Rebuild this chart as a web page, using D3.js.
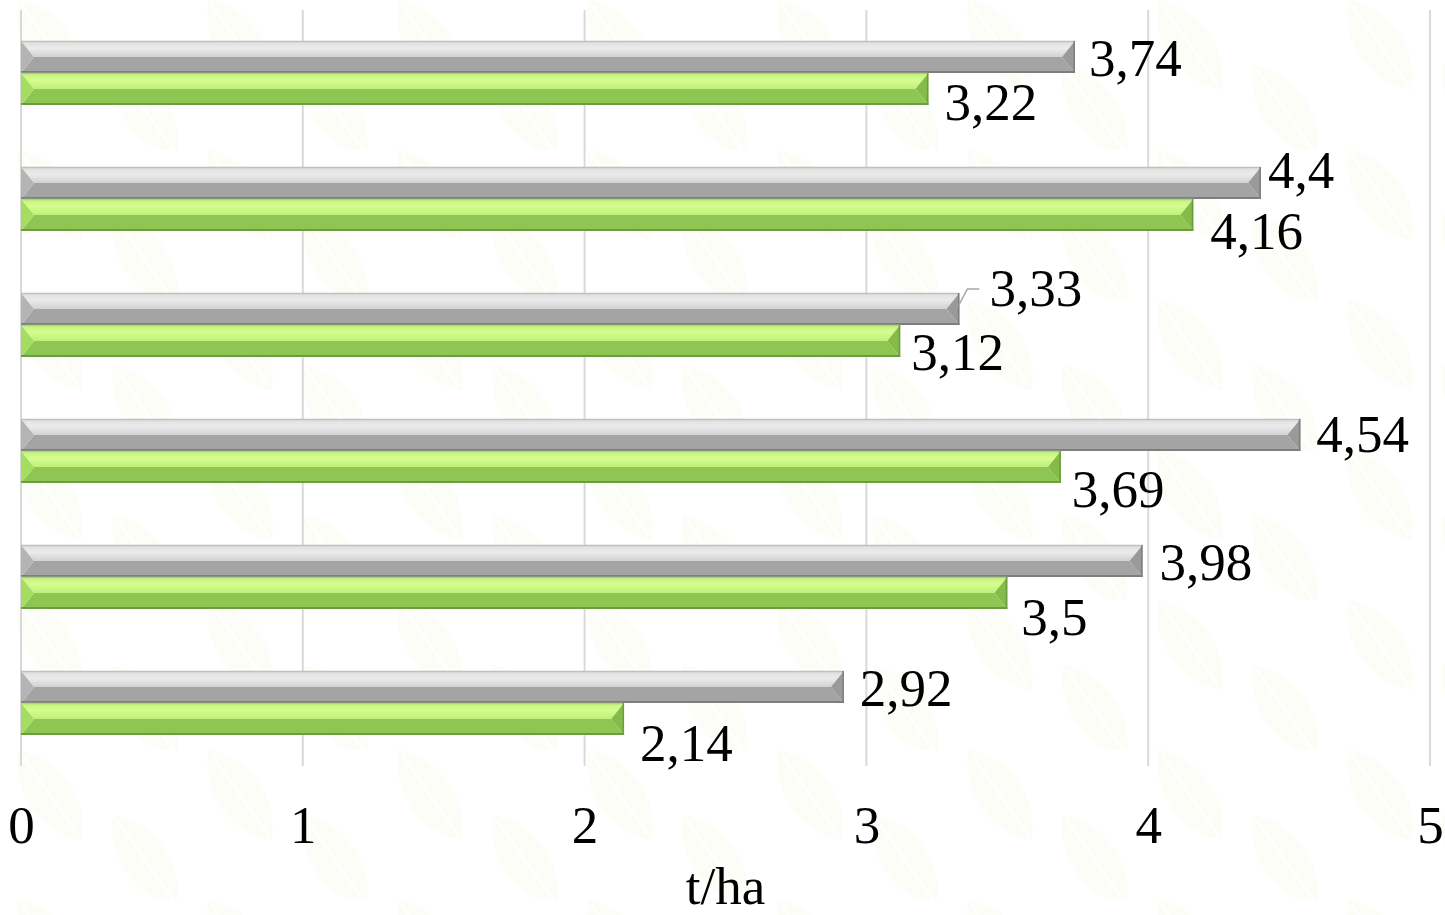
<!DOCTYPE html>
<html>
<head>
<meta charset="utf-8">
<script src="https://cdn.jsdelivr.net/npm/d3@7/dist/d3.min.js"></script>
<style>
  html, body { margin: 0; padding: 0; background: #ffffff; }
  svg { display: block; }
  text { font-family: "Liberation Serif", "Times New Roman", serif; fill: #000; }
</style>
</head>
<body>
<svg id="chart" width="1445" height="915"></svg>
<script>
// Yield per plot, t/ha
const categories = ["1", "2", "3", "4", "5", "6"];
const seriesNames = ["grey", "green"];
const greyValues  = [3.74, 4.40, 3.33, 4.54, 3.98, 2.92];
const greenValues = [3.22, 4.16, 3.12, 3.69, 3.50, 2.14];
const greyLabels  = ["3,74", "4,4", "3,33", "4,54", "3,98", "2,92"];
const greenLabels = ["3,22", "4,16", "3,12", "3,69", "3,5", "2,14"];
const tickValues  = [0, 1, 2, 3, 4, 5];
const axisTitle   = "t/ha";

const W = 1445, H = 915;
const svg = d3.select("#chart");

// faint leaf watermark in the background
const defs = svg.append("defs");
const pat = defs.append("pattern")
  .attr("id", "leaves").attr("patternUnits", "userSpaceOnUse")
  .attr("width", 190).attr("height", 150);
[[50, 45, 55], [145, 110, 55]].forEach(([cx, cy, r]) => {
  const g = pat.append("g").attr("transform", `translate(${cx},${cy}) rotate(${r})`);
  g.append("path").attr("d", "M-55,0 C-25,-30 25,-30 55,0 C25,30 -25,30 -55,0 Z")
    .attr("fill", "#f6f8e6");
  g.append("path").attr("d", "M-50,0 L50,0").attr("stroke", "#ffffff").attr("stroke-width", 3);
});
svg.append("rect").attr("width", W).attr("height", H).attr("fill", "#ffffff");
svg.append("rect").attr("width", W).attr("height", H).attr("fill", "url(#leaves)").attr("opacity", 0.35);

// gradients for the bevelled top faces
function vgrad(id, stops) {
  const g = defs.append("linearGradient").attr("id", id)
    .attr("x1", 0).attr("y1", 0).attr("x2", 0).attr("y2", 1);
  stops.forEach(([o, c]) => g.append("stop").attr("offset", o).attr("stop-color", c));
}
vgrad("greyTop",  [[0, "#dedede"], [0.45, "#ebebeb"], [1, "#d2d2d2"]]);
vgrad("greenTop", [[0, "#c4f27e"], [0.45, "#d4fd8e"], [1, "#bff078"]]);

const style = {
  grey:  { top: "url(#greyTop)",  bottom: "#a4a4a4", left: "#b4b4b4", right: "#9a9a9a", edge: "#c0c0c0", base: "#7e7e7e" },
  green: { top: "url(#greenTop)", bottom: "#8fc653", left: "#a4dd62", right: "#84bb49", edge: "#a8d874", base: "#6b9c3f" }
};

const plotTop = 10, plotBottom = 766;
const x = d3.scaleLinear().domain([0, 5]).range([21, 1430]);
const y = d3.scaleBand().domain(categories).range([plotTop, plotBottom])
  .paddingInner(0.492).paddingOuter(0.246);
const ySeries = d3.scaleBand().domain(seriesNames).range([0, y.bandwidth()]);

// tick labels along the bottom
const axis = d3.axisBottom(x).tickValues(tickValues).tickSize(0).tickFormat(d3.format("d"));
const gAxis = svg.append("g").attr("transform", `translate(0,${plotBottom})`).call(axis);
gAxis.select(".domain").remove();
gAxis.selectAll(".tick line").remove();
gAxis.selectAll(".tick text")
  .attr("y", 77).attr("dy", 0)
  .style("font-family", "'Liberation Serif', 'Times New Roman', serif")
  .style("font-size", "53px").attr("fill", "#000");

// vertical gridlines (the one at 0 doubles as the axis line)
svg.append("g").selectAll("line").data(tickValues).join("line")
  .attr("x1", d => x(d)).attr("x2", d => x(d))
  .attr("y1", plotTop).attr("y2", plotBottom)
  .attr("stroke", "#d9d9d9").attr("stroke-width", 2);

// bevelled bars
const rows = categories.map((c, i) => ({
  cat: c,
  bars: [
    { s: "grey",  v: greyValues[i],  label: greyLabels[i] },
    { s: "green", v: greenValues[i], label: greenLabels[i] }
  ]
}));

const bev = 13;
const pts = p => p.map(q => q.join(",")).join(" ");

rows.forEach(row => {
  row.bars.forEach(b => {
    const st = style[b.s];
    const x0 = x(0), x1 = x(b.v);
    const y0 = y(row.cat) + ySeries(b.s), h = ySeries.bandwidth();
    const y1 = y0 + h, ym = y0 + h / 2;
    const g = svg.append("g");
    g.append("polygon").attr("points", pts([[x0, y0], [x1, y0], [x1 - bev, ym], [x0 + bev, ym]])).attr("fill", st.top);
    g.append("polygon").attr("points", pts([[x0 + bev, ym], [x1 - bev, ym], [x1, y1], [x0, y1]])).attr("fill", st.bottom);
    g.append("polygon").attr("points", pts([[x0, y0], [x0 + bev, ym], [x0, y1]])).attr("fill", st.left);
    g.append("polygon").attr("points", pts([[x1, y0], [x1, y1], [x1 - bev, ym]])).attr("fill", st.right);
    g.append("line").attr("x1", x0).attr("x2", x1).attr("y1", y0 + 0.5).attr("y2", y0 + 0.5)
      .attr("stroke", st.edge).attr("stroke-width", 1.5);
    g.append("line").attr("x1", x0).attr("x2", x1).attr("y1", y1 - 1).attr("y2", y1 - 1)
      .attr("stroke", st.base).attr("stroke-width", 2);
    g.append("line").attr("x1", x1 - 0.75).attr("x2", x1 - 0.75).attr("y1", y0).attr("y2", y1)
      .attr("stroke", st.base).attr("stroke-width", 1.5);
  });
});

// value labels, each nudged off the end of its bar ([dx, dy] from bar end / bar centre)
const greyNudge  = [[14, 2], [7, -12], [30, -20], [16, 0], [17, 2], [16, 2]];
const greenNudge = [[16, 14], [17, 17], [11, 12], [11, 23], [14, 25], [16, 25]];
const baselineShift = 17;

rows.forEach((row, i) => {
  row.bars.forEach(b => {
    const [dx, dy] = (b.s === "grey" ? greyNudge : greenNudge)[i];
    const xe = x(b.v);
    const yc = y(row.cat) + ySeries(b.s) + ySeries.bandwidth() / 2;
    svg.append("text").attr("x", xe + dx).attr("y", yc + dy + baselineShift)
      .style("font-size", "53px").text(b.label);
    if (dx > 25) {
      // leader line for a label pulled away from its bar
      svg.append("polyline")
        .attr("points", pts([[xe - 1, yc - 3], [xe + 8, yc + dy], [xe + dx - 10, yc + dy]]))
        .attr("fill", "none").attr("stroke", "#a6a6a6").attr("stroke-width", 1.5);
    }
  });
});

// axis title
svg.append("text").attr("x", (x(0) + x(5)) / 2).attr("y", 904)
  .attr("text-anchor", "middle").style("font-size", "53px").text(axisTitle);
</script>
</body>
</html>
